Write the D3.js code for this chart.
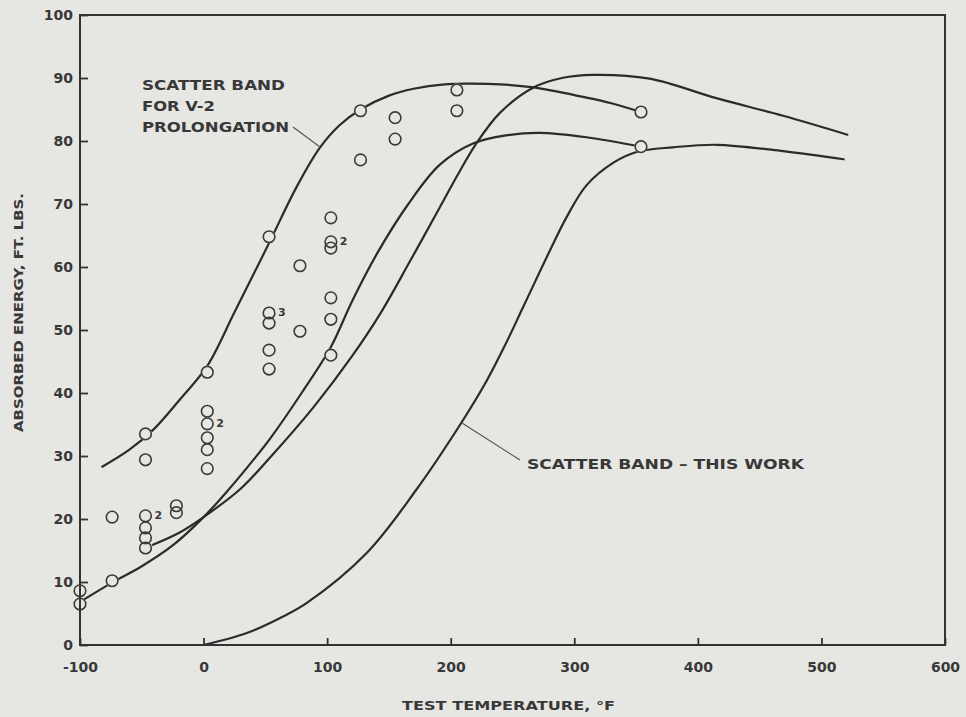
<!DOCTYPE html>
<html>
<head>
<meta charset="utf-8">
<script src="https://cdn.jsdelivr.net/npm/d3@7"></script>
<style>
  html, body { margin: 0; padding: 0; background: #e6e6e3; }
  svg { display: block; }
</style>
</head>
<body>
<svg id="chart" width="966" height="717"></svg>
<script>
// ---------- data ----------
const xTicks = [-100, 0, 100, 200, 300, 400, 500, 600];
const yTicks = [0, 10, 20, 30, 40, 50, 60, 70, 80, 90, 100];

// test points (temperature °F, absorbed energy ft-lb)
const pointTemp = [
  -100, -100,
  -74, -74,
  -47, -47, -47, -47, -47, -47,
  -22, -22,
  3, 3, 3, 3, 3, 3,
  53, 53, 53, 53, 53,
  78, 78,
  103, 103, 103, 103, 103, 103,
  127, 127,
  155, 155,
  205, 205,
  354, 354
];
const pointEnergy = [
  8.6, 6.5,
  20.3, 10.2,
  33.5, 29.4, 20.5, 18.6, 17.0, 15.4,
  22.1, 21.0,
  43.3, 37.1, 35.1, 32.9, 31.0, 28.0,
  64.8, 52.7, 51.1, 46.8, 43.8,
  60.2, 49.8,
  67.8, 64.0, 63.0, 55.1, 51.7, 46.0,
  84.8, 77.0,
  83.7, 80.3,
  88.1, 84.8,
  84.6, 79.1
];

// multiplicity notes next to points
const noteTemp = [-47, 3, 53, 103];
const noteEnergy = [20.5, 35.1, 52.7, 64.0];
const noteText = ["2", "2", "3", "2"];

// scatter band for V-2 prolongation
const v2Upper = [
  [-82, 28.3], [-60, 31.0], [-40, 34.3], [-19, 39.0], [3, 44.3], [25, 52.8],
  [53, 63.8], [75, 72.6], [94, 78.9], [110, 82.5], [127, 85.0], [150, 87.2],
  [170, 88.3], [195, 89.0], [215, 89.1], [240, 89.0], [267, 88.5], [307, 87.0],
  [330, 86.0], [354, 84.6]
];
const v2Lower = [
  [-97, 7.2], [-74, 9.9], [-50, 12.5], [-25, 15.8], [0, 20.3], [20, 24.6],
  [40, 29.3], [54, 32.8], [80, 40.2], [103, 47.3], [120, 54.5], [140, 62.0],
  [165, 69.8], [191, 76.2], [218, 79.6], [245, 80.9], [272, 81.3], [310, 80.6],
  [354, 79.1]
];

// scatter band - this work
const thisUpper = [
  [-41, 15.9], [-19, 17.9], [0, 20.3], [30, 24.8], [54, 29.8], [90, 38.0],
  [120, 45.8], [143, 52.6], [167, 60.9], [191, 69.4], [205, 74.4], [220, 79.4],
  [240, 84.5], [267, 88.5], [290, 90.0], [315, 90.5], [361, 89.9], [415, 86.8],
  [469, 84.0], [521, 81.0]
];
const thisLower = [
  [0, 0.0], [35, 1.9], [62, 4.3], [83, 6.6], [132, 14.6], [172, 24.6],
  [209, 35.4], [229, 41.9], [244, 47.6], [259, 53.8], [280, 62.5], [294, 68.0],
  [310, 73.0], [332, 76.6], [351, 78.3], [380, 79.0], [415, 79.4], [469, 78.4],
  [518, 77.1]
];

// ---------- drawing ----------
const ink = "#2b2b2b";
const textInk = "#383838";
const bg = "#e6e6e3";

const svg = d3.select("#chart");
svg.append("rect").attr("width", 966).attr("height", 717).attr("fill", bg);

const x = d3.scaleLinear().domain([-100, 600]).range([80, 945]);
const y = d3.scaleLinear().domain([0, 100]).range([645, 15]);

const line = d3.line()
  .x(d => x(d[0])).y(d => y(d[1]))
  .curve(d3.curveCatmullRom.alpha(0.5));

const curves = svg.append("g")
  .attr("fill", "none").attr("stroke", ink)
  .attr("stroke-width", 2.2).attr("stroke-linecap", "round");
[v2Upper, v2Lower, thisUpper, thisLower].forEach(c => {
  curves.append("path").attr("d", line(c));
});

const pts = pointTemp.map((t, i) => [t, pointEnergy[i]]);
// background discs hide curves inside hollow circles
svg.append("g").selectAll("circle").data(pts).join("circle")
  .attr("cx", d => x(d[0])).attr("cy", d => y(d[1])).attr("r", 6.6)
  .attr("fill", bg);
svg.append("g").selectAll("circle").data(pts).join("circle")
  .attr("cx", d => x(d[0])).attr("cy", d => y(d[1])).attr("r", 5.8)
  .attr("fill", "none").attr("stroke", "#3a3a3a").attr("stroke-width", 1.6);

svg.append("g").selectAll("text").data(noteText).join("text")
  .attr("x", (d, i) => x(noteTemp[i]) + 9)
  .attr("y", (d, i) => y(noteEnergy[i]) + 3)
  .attr("font-family", "DejaVu Sans, sans-serif").attr("font-weight", "bold")
  .attr("font-size", 11).attr("fill", textInk)
  .text(d => d);

// frame
svg.append("rect")
  .attr("x", 80).attr("y", 15).attr("width", 865).attr("height", 630)
  .attr("fill", "none").attr("stroke", "#333").attr("stroke-width", 2);

const axFont = g => g.selectAll("text")
  .attr("font-family", "DejaVu Sans, sans-serif")
  .attr("font-weight", "bold").attr("font-size", 14).attr("fill", textInk);

const gx = svg.append("g").attr("transform", "translate(0,645)")
  .call(d3.axisBottom(x).tickValues(xTicks).tickSize(-7).tickSizeOuter(0)
    .tickPadding(17).tickFormat(d => String(d)));
gx.select(".domain").remove();
gx.selectAll("line").attr("stroke", "#333").attr("stroke-width", 1.8);
axFont(gx);

const gy = svg.append("g").attr("transform", "translate(80,0)")
  .call(d3.axisLeft(y).tickValues(yTicks).tickSize(-8).tickSizeOuter(0)
    .tickPadding(7).tickFormat(d => String(d)));
gy.select(".domain").remove();
gy.selectAll("line").attr("stroke", "#333").attr("stroke-width", 1.8);
axFont(gy);

// axis titles
const label = (sel) => sel.attr("font-family", "DejaVu Sans, sans-serif")
  .attr("font-weight", "bold").attr("fill", textInk)
  .attr("lengthAdjust", "spacingAndGlyphs");

svg.append("text").call(label)
  .attr("x", 402).attr("y", 710).attr("font-size", 12)
  .attr("textLength", 213).text("TEST TEMPERATURE, °F");

svg.append("text").call(label)
  .attr("transform", "translate(23,432) rotate(-90)")
  .attr("x", 0).attr("y", 0).attr("font-size", 13)
  .attr("textLength", 239).text("ABSORBED ENERGY, FT. LBS.");

// annotations
const ann1 = ["SCATTER BAND", "FOR V-2", "PROLONGATION"];
const ann1Len = [143, 73, 147];
svg.append("g").selectAll("text").data(ann1).join("text").call(label)
  .attr("x", 142).attr("y", (d, i) => 90 + i * 21)
  .attr("font-size", 14)
  .attr("textLength", (d, i) => ann1Len[i]).text(d => d);

svg.append("line")
  .attr("x1", 293).attr("y1", 127).attr("x2", 320).attr("y2", 147)
  .attr("stroke", "#555").attr("stroke-width", 1.2);

svg.append("text").call(label)
  .attr("x", 527).attr("y", 469).attr("font-size", 14)
  .attr("textLength", 277).text("SCATTER BAND – THIS WORK");

svg.append("line")
  .attr("x1", 462).attr("y1", 423).attr("x2", 520).attr("y2", 460)
  .attr("stroke", "#555").attr("stroke-width", 1.2);
</script>
</body>
</html>
